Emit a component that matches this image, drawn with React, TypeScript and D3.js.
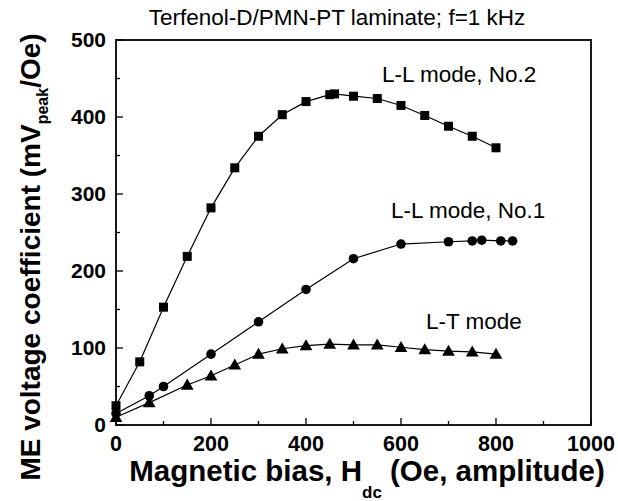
import React from 'react';
import * as d3 from 'd3';

const width = 618;
const height = 501;
const margin = {top: 40, right: 27, bottom: 76, left: 116};

// L-L mode, No.2 (squares)
const ll2X = [0, 50, 100, 150, 200, 250, 300, 350, 400, 450, 460, 500, 550, 600, 650, 700, 750, 800];
const ll2Y = [25, 82, 153, 219, 282, 334, 375, 403, 420, 429, 430, 427, 424, 415, 402, 388, 375, 360];
// L-L mode, No.1 (circles)
const ll1X = [0, 70, 100, 200, 300, 400, 500, 600, 700, 750, 770, 810, 835];
const ll1Y = [15, 38, 50, 92, 134, 176, 216, 235, 238, 239, 240, 239, 239];
// L-T mode (triangles)
const ltX = [0, 70, 150, 200, 250, 300, 350, 400, 450, 500, 550, 600, 650, 700, 750, 800];
const ltY = [10, 29, 52, 64, 78, 92, 99, 103, 105, 104, 104, 101, 98, 96, 95, 92];

const xTicks = [0, 200, 400, 600, 800, 1000];
const yTicks = [0, 100, 200, 300, 400, 500];

const font = '"Liberation Sans", Arial, sans-serif';

const xScale = d3.scaleLinear().domain([0, 1000]).range([margin.left, width - margin.right]);
const yScale = d3.scaleLinear().domain([0, 500]).range([height - margin.bottom, margin.top]);

const zip = (xs: number[], ys: number[]) => xs.map((x, i) => [x, ys[i]] as [number, number]);

const line = d3.line<[number, number]>()
  .x(d => xScale(d[0]))
  .y(d => yScale(d[1]));

const App = () => {
  const x0 = xScale(0), x1 = xScale(1000);
  const y0 = yScale(0), y1 = yScale(500);
  const xMinor = d3.range(0, 1001, 100);
  const yMinor = d3.range(0, 501, 50);
  const tri = d3.symbol().type(d3.symbolTriangle).size(70)();

  return (
    <svg width={width} height={height} style={{position: 'absolute', left: 0, top: 0, background: '#fff'}}
      fontFamily={font}>
      <text x={337} y={25} textAnchor='middle' fontSize='22.5'>Terfenol-D/PMN-PT laminate; f=1 kHz</text>

      {/* lines */}
      <path d={line(zip(ll2X, ll2Y)) || ''} fill='none' stroke='#000' strokeWidth='1.2' />
      <path d={line(zip(ll1X, ll1Y)) || ''} fill='none' stroke='#000' strokeWidth='1.2' />
      <path d={line(zip(ltX, ltY)) || ''} fill='none' stroke='#000' strokeWidth='1.2' />

      {/* markers */}
      {zip(ll2X, ll2Y).map((d, i) => (
        <rect key={'s' + i} x={xScale(d[0]) - 4.5} y={yScale(d[1]) - 4.5} width={9} height={9} fill='#000' />
      ))}
      {zip(ll1X, ll1Y).map((d, i) => (
        <circle key={'c' + i} cx={xScale(d[0])} cy={yScale(d[1])} r={4.8} fill='#000' />
      ))}
      {zip(ltX, ltY).map((d, i) => (
        <path key={'t' + i} d={tri || ''} transform={`translate(${xScale(d[0])},${yScale(d[1]) + 1})`} fill='#000' />
      ))}

      {/* frame */}
      <rect x={x0} y={y1} width={x1 - x0} height={y0 - y1} fill='none' stroke='#000' strokeWidth='1.8' />

      {/* x ticks */}
      {xMinor.map(v => (
        <line key={'xt' + v} x1={xScale(v)} x2={xScale(v)} y1={y0} y2={y0 - (v % 200 === 0 ? 7 : 4)} stroke='#000' strokeWidth='1.3' />
      ))}
      {xTicks.map(v => (
        <text key={'xl' + v} x={xScale(v)} y={y0 + 26} textAnchor='middle' fontSize='21.5' fontWeight='bold'>{v}</text>
      ))}

      {/* y ticks */}
      {yMinor.map(v => (
        <line key={'yt' + v} x1={x0} x2={x0 + (v % 100 === 0 ? 7 : 4)} y1={yScale(v)} y2={yScale(v)} stroke='#000' strokeWidth='1.3' />
      ))}
      {yTicks.map(v => (
        <text key={'yl' + v} x={x0 - 10} y={yScale(v) + 7} textAnchor='end' fontSize='21' fontWeight='bold'>{v}</text>
      ))}

      {/* annotations */}
      <text x={382} y={82} fontSize='22.5'>L-L mode, No.2</text>
      <text x={391} y={218} fontSize='22.5'>L-L mode, No.1</text>
      <text x={426} y={329} fontSize='22.5'>L-T mode</text>

      {/* axis titles */}
      <text x={367} y={481} textAnchor='middle' fontSize='29.5' fontWeight='bold'>
        Magnetic bias, H<tspan dy='17' fontSize='17'>dc</tspan><tspan dy='-17'> (Oe, amplitude)</tspan>
      </text>
      <text transform={`translate(40, 257) rotate(-90)`} textAnchor='middle' fontSize='28' fontWeight='bold'>
        ME voltage coefficient (mV<tspan dy='8' fontSize='16'>peak</tspan><tspan dy='-8'>/Oe)</tspan>
      </text>
    </svg>
  );
};

export default App;
